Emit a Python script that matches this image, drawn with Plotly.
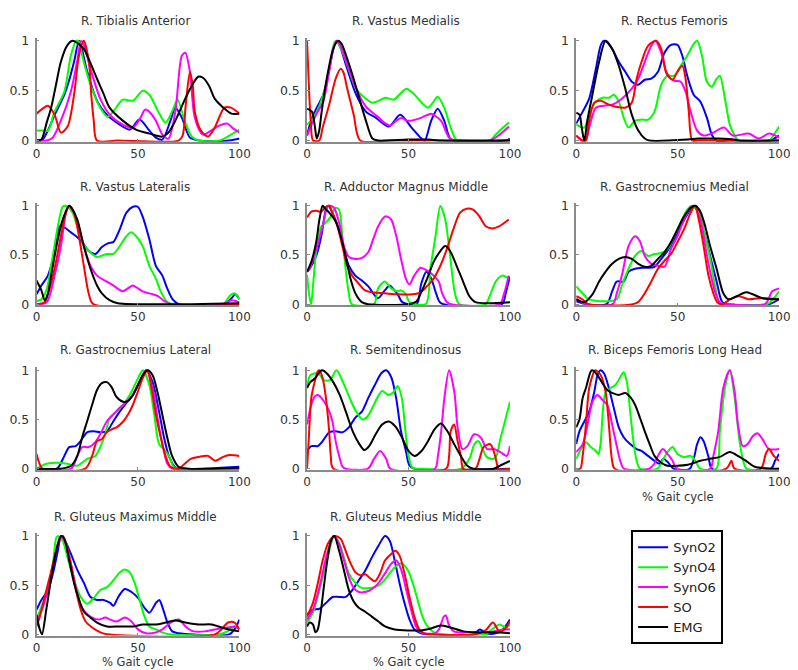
import plotly.graph_objects as go

# ---------------- data: (x % gait cycle, normalised activation) ----------------
TA_SYNO2 = [(0,0),(3,0.01),(6,0.12),(9,0.26),(13.7,0.46),(16,0.6),(18.5,0.79),(21,1.0),(25,0.69),(30,0.39),(34.6,0.26),(41,0.16),(46,0.11),(50.7,0.21),(55.6,0.1),(58.8,0.03),(62,0.01),(66,0.2),(68.4,0.33),(71.6,0.23),(75.6,0.03),(80,0),(95,0),(100,0.02)]
TA_SYNO4 = [(0,0.1),(3,0.1),(5.6,0.1),(8.9,0.29),(13.7,0.49),(16.9,0.85),(19.5,1.0),(21,0.99),(22.5,0.85),(26.6,0.56),(31.4,0.33),(35,0.24),(37.8,0.29),(42.5,0.41),(47.5,0.4),(52.3,0.5),(55.6,0.46),(60,0.29),(63.6,0.18),(66.8,0.29),(69.5,0.41),(73,0.2),(76.5,0.04),(80,0),(90,0),(95,0.05),(100,0.11)]
TA_SYNO6 = [(0,0),(5,0),(8,0.03),(12,0.2),(16.9,0.49),(20,0.79),(22,1.0),(23.5,0.95),(26.6,0.72),(31.4,0.42),(36,0.26),(42.5,0.16),(47.5,0.13),(51,0.22),(53.5,0.31),(56,0.28),(58.8,0.2),(62,0.06),(65,0.02),(68.4,0.29),(71.6,0.85),(73.3,0.88),(75.6,0.69),(78,0.23),(82,0.06),(86,0.1),(90,0.15),(94,0.17),(97,0.12),(100,0.08)]
TA_SO = [(0,0.27),(3,0.32),(5.6,0.35),(8.9,0.26),(12,0.08),(15.3,0.14),(18.5,0.46),(20.9,0.85),(23.3,1.0),(25.8,0.79),(27,0.45),(28.2,0.2),(29.8,0),(40,0),(70,0),(72,0.05),(73.5,0.35),(75.6,0.69),(77,0.55),(78,0.29),(81,0.1),(84.5,0.04),(87.8,0.13),(92.6,0.33),(95.8,0.33),(100,0.27)]
TA_EMG = [(0,0),(2.4,0.01),(5,0.18),(7.2,0.33),(9.5,0.55),(12,0.79),(15,0.95),(17.7,1.0),(20,0.98),(23.3,0.92),(26.5,0.78),(29.8,0.62),(33,0.47),(36,0.33),(42.5,0.2),(49,0.11),(55.6,0.07),(62,0.04),(65,0.08),(68.4,0.2),(73.3,0.42),(76.5,0.55),(79.7,0.64),(82,0.63),(85,0.55),(87.8,0.42),(92.6,0.32),(96,0.27),(100,0.27)]

VM_SYNO2 = [(0,0.05),(2,0.2),(4.8,0.33),(8,0.46),(11,0.72),(13,0.92),(14.5,1.0),(16.5,0.93),(19.3,0.75),(24.2,0.46),(29,0.29),(33.8,0.23),(40.3,0.14),(45.9,0.26),(51.5,0.13),(56.4,0.02),(58,0),(61.2,0.2),(64.4,0.32),(67.6,0.2),(70.8,0.01),(75,0),(98,0),(100,0.02)]
VM_SYNO4 = [(0,0.16),(2,0.2),(4.8,0.29),(8,0.46),(11,0.72),(13,0.95),(14.1,1.0),(16,0.95),(19.3,0.79),(24.2,0.52),(29,0.42),(32.2,0.38),(35.5,0.4),(38.6,0.43),(42.7,0.41),(46,0.47),(49,0.52),(53,0.46),(56.5,0.38),(59.5,0.33),(62,0.38),(64.4,0.44),(67.6,0.33),(70.8,0.13),(74,0),(90,0),(93,0.06),(96,0.12),(99.5,0.18)]
VM_SYNO6 = [(0,0.05),(2,0.15),(5,0.28),(8,0.39),(11,0.7),(13,0.93),(14.8,1.0),(16.5,0.95),(19.3,0.79),(24.2,0.52),(29,0.34),(35.4,0.23),(38,0.18),(41,0.15),(44,0.2),(46.7,0.23),(49,0.2),(51.5,0.2),(56.4,0.23),(61.2,0.27),(63,0.25),(66,0.2),(70,0.03),(73,0),(90,0),(95,0.06),(99.5,0.14)]
VM_SO = [(0,1.0),(0.8,0.6),(1.8,0.2),(3,0),(6,0),(7.7,0.13),(10.9,0.36),(14.1,0.62),(16.6,0.72),(18,0.68),(19.8,0.52),(23,0.26),(26.2,0),(40,0),(100,0)]
VM_EMG = [(0,0.32),(2.4,0.29),(3.8,0.15),(4.8,0.02),(6,0.1),(7.2,0.29),(9.7,0.62),(12.9,0.92),(15.3,1.0),(17,0.97),(19.3,0.85),(22.5,0.65),(25.8,0.42),(29,0.2),(32.2,0.02),(35,0),(50,0.01),(60,0.01),(65,0),(100,0)]

RF_SYNO2 = [(0,0.17),(3.2,0.29),(6.4,0.42),(9.7,0.72),(12,0.95),(13.5,1.0),(15,0.99),(17.7,0.92),(21,0.79),(24.2,0.69),(27.4,0.59),(30.6,0.56),(33.8,0.61),(37,0.62),(40.3,0.69),(43.5,0.88),(46.7,0.96),(49.9,0.96),(52.3,0.85),(54.7,0.65),(57.9,0.46),(61.2,0.39),(64.4,0.23),(66.8,0.06),(69,0),(95,0),(100,0.05)]
RF_SYNO4 = [(0,0.16),(4,0.13),(6.4,0.26),(9.7,0.39),(12.9,0.43),(16.1,0.43),(18.5,0.46),(21,0.39),(23.4,0.23),(25.8,0.13),(29,0.2),(32.2,0.21),(35.4,0.21),(38.6,0.29),(41.9,0.56),(45,0.65),(48.3,0.65),(51.5,0.75),(54.7,0.85),(57.9,0.97),(59.6,1.0),(62,0.85),(64.4,0.59),(66.8,0.54),(69.2,0.62),(70.8,0.65),(73.3,0.42),(75.7,0.16),(78.1,0.05),(80,0),(95,0),(97.5,0.06),(100,0.14)]
RF_SYNO6 = [(0,0.05),(3,0),(5,0.02),(6.4,0.13),(9.7,0.33),(13.7,0.35),(17.7,0.36),(22.5,0.42),(27.4,0.52),(30.6,0.62),(33.8,0.79),(37,0.95),(39,1.0),(41.9,0.88),(45,0.65),(48.3,0.6),(51.5,0.59),(53.9,0.49),(56.4,0.29),(59.6,0.1),(62.8,0.05),(67.6,0.08),(71,0.12),(73,0.13),(77.3,0.05),(85,0.07),(90,0.02),(95,0.07),(100,0.03)]
RF_SO = [(0,0.05),(3,0),(4.8,0),(6.4,0.2),(8.9,0.38),(12.1,0.4),(16.1,0.36),(19.3,0.34),(24.2,0.33),(27.4,0.38),(29.8,0.62),(32.2,0.79),(35.4,0.95),(39.4,1.0),(41.9,0.92),(44.3,0.69),(47.5,0.61),(49.9,0.69),(52.3,0.75),(53.9,0.62),(55.5,0.29),(57.2,0),(60,0),(100,0)]
RF_EMG = [(0,0.28),(1.6,0.26),(2.8,0.12),(4,0),(5.5,0.2),(8,0.46),(11.3,0.79),(14.5,1.0),(17.7,0.92),(21,0.75),(24.2,0.52),(27.4,0.26),(30.6,0.1),(33.8,0.02),(36,0),(55,0.01),(60,0.02),(70,0.02),(78,0.01),(80,0),(100,0)]

VL_SYNO2 = [(0,0.1),(2.4,0.19),(5.6,0.29),(8.9,0.53),(11.3,0.79),(13.7,0.78),(16.9,0.73),(20.1,0.68),(22.5,0.63),(25.8,0.54),(29,0.51),(32.2,0.58),(35.4,0.62),(37.8,0.63),(41,0.76),(44.3,0.93),(47.5,0.99),(49.9,0.99),(52.3,0.89),(55.6,0.66),(58.8,0.39),(62,0.29),(64.4,0.16),(67,0.05),(70,0),(93,0),(96,0.06),(98,0.1),(100,0.05)]
VL_SYNO4 = [(0,0.03),(2.4,0.05),(5,0.15),(7.2,0.39),(10.5,0.79),(12.9,0.99),(14.5,1.0),(17.7,0.93),(20.1,0.79),(22.5,0.64),(25.8,0.54),(29.8,0.48),(34.6,0.51),(37.8,0.51),(41,0.59),(44.3,0.69),(46.7,0.73),(49.1,0.69),(52.3,0.59),(55.6,0.39),(58.8,0.26),(61.2,0.13),(64,0.03),(67,0),(92,0),(95,0.08),(97.5,0.11),(100,0.05)]
VL_SYNO6 = [(0,0),(5,0.02),(8.9,0.29),(12,0.59),(14.5,0.93),(16,1.0),(17.5,0.97),(20.1,0.83),(23.3,0.59),(26.6,0.39),(29.8,0.29),(34.6,0.23),(37.8,0.19),(42.5,0.13),(45,0.16),(47.5,0.19),(50,0.16),(52.3,0.13),(57.2,0.1),(60,0.08),(63,0.03),(66,0),(92,0),(96,0.04),(100,0.02)]
VL_SO = [(0,0),(4,0.02),(5.6,0.1),(8.9,0.36),(12,0.69),(14.5,0.93),(16.1,1.0),(18.5,0.93),(20.9,0.69),(23.3,0.39),(25.8,0.1),(28,0),(100,0)]
VL_EMG = [(0,0.24),(2.4,0.14),(4,0.04),(5.5,0.1),(7.2,0.29),(10.5,0.66),(12.9,0.86),(16.1,1.0),(17.5,0.97),(20.1,0.86),(23.3,0.59),(26.6,0.36),(29.8,0.19),(32.2,0.11),(36,0.04),(40,0.01),(100,0.01)]

AM_SYNO2 = [(0,0.33),(1.3,0.36),(4.5,0.49),(7,0.69),(9.3,0.96),(10.5,1.0),(13.3,0.89),(15.8,0.76),(18.2,0.56),(20.6,0.39),(23.8,0.29),(27,0.24),(30.2,0.18),(32.6,0.11),(35,0.06),(38.3,0.14),(40.7,0.19),(43.1,0.14),(44.7,0.1),(47,0.02),(54,0),(56.3,0.21),(58.8,0.33),(61.2,0.26),(63.6,0.11),(66,0.01),(96,0),(98,0.12),(100,0.28)]
AM_SYNO4 = [(0,0.3),(1,0.1),(2,0),(3,0.2),(4.5,0.53),(7,0.79),(9.3,0.83),(11.7,0.89),(14.1,0.98),(15.8,0.96),(17.4,0.69),(19,0.36),(20.6,0.11),(22,0),(33,0),(35,0.16),(38.3,0.23),(41.5,0.16),(44.7,0.13),(46.3,0.14),(48.7,0.1),(50.5,0.02),(58.5,0),(60.8,0.36),(63.3,0.69),(65.7,1.0),(68.1,0.86),(70.5,0.49),(72.9,0.11),(75,0),(88,0),(90,0.08),(93,0.23),(96.2,0.29),(99.4,0.26)]
AM_SYNO6 = [(0,0.33),(1.3,0.36),(4.5,0.56),(7.7,0.79),(10,0.99),(11.5,1.0),(13.3,0.98),(15.8,0.83),(18.2,0.59),(20.6,0.48),(23.8,0.46),(27,0.47),(30.2,0.53),(32.6,0.66),(35,0.79),(38.3,0.89),(39.5,0.89),(41.5,0.86),(44,0.69),(46.3,0.46),(48.7,0.26),(50.5,0.2),(52.8,0.29),(56,0.37),(59.2,0.34),(62.4,0.29),(64.9,0.23),(66.6,0.11),(69,0.02),(71,0),(95,0),(97,0.1),(99.4,0.29)]
AM_SO = [(0,0.88),(2.1,0.94),(4.5,0.95),(7,0.94),(9.3,0.99),(11,1.0),(12.5,0.93),(15,0.79),(17.4,0.59),(19.8,0.39),(22.2,0.29),(25.4,0.21),(28.6,0.14),(31.8,0.12),(38.3,0.11),(45,0.1),(52,0.1),(56,0.12),(59,0.18),(62.4,0.26),(65.7,0.39),(68.9,0.56),(72.1,0.76),(75.4,0.93),(78.6,0.97),(81.8,0.96),(85,0.89),(88.2,0.79),(91.4,0.77),(94.6,0.79),(99.4,0.86)]
AM_EMG = [(0,0.33),(2.1,0.43),(4.5,0.63),(6.1,0.86),(7.7,1.0),(9,0.97),(10.9,0.93),(14.1,0.84),(16.6,0.69),(19,0.49),(21.4,0.26),(23.8,0.11),(27,0.02),(30,0),(50,0),(54,0.03),(56,0.11),(59.2,0.26),(62.4,0.43),(65.7,0.54),(68.1,0.59),(70.5,0.54),(73.7,0.39),(76.9,0.23),(80,0.08),(83,0.02),(100,0.02)]

GM_SYNO2 = [(0,0.03),(5,0),(15,0),(17.7,0.13),(20,0.23),(23.4,0.23),(25.8,0.33),(29,0.36),(32.2,0.37),(35.4,0.37),(38.6,0.38),(41.9,0.46),(45,0.54),(48.3,0.66),(51.5,0.79),(54.7,0.91),(58,1.0),(60.4,0.93),(63.6,0.69),(66,0.49),(69.2,0.23),(72,0.02),(75,0),(95,0),(100,0.05)]
GM_SYNO4 = [(0,0.18),(3.2,0.11),(6,0.05),(15,0.03),(20,0.05),(22.5,0.19),(25.8,0.36),(29,0.49),(32.2,0.54),(35.4,0.49),(38.6,0.51),(41.9,0.52),(45,0.56),(48.3,0.69),(51.5,0.83),(54.7,0.96),(57,1.0),(60.4,0.93),(62.8,0.76),(66,0.46),(68.4,0.19),(70.5,0.02),(73,0),(94,0),(97,0.05),(100,0.13)]
GM_SYNO6 = [(0,0.05),(5,0),(18,0),(20,0.11),(22.5,0.29),(25.8,0.59),(29,0.69),(31.4,0.64),(33.8,0.49),(37,0.41),(40.3,0.39),(43.5,0.38),(46.7,0.56),(49.9,0.69),(53.1,0.86),(56.4,0.98),(58,1.0),(61.2,0.86),(63.6,0.59),(66,0.33),(68.4,0.13),(71,0.01),(75,0),(93,0),(96.6,0.13),(100,0.16)]
GM_SO = [(0,0.08),(3,0.05),(6,0),(28,0),(31,0.03),(33.8,0.11),(37,0.23),(40.3,0.36),(43.5,0.44),(46.7,0.51),(49.9,0.63),(53.1,0.76),(56.4,0.93),(58.5,1.0),(60.4,0.86),(62.8,0.59),(65.2,0.29),(67.6,0.11),(69.5,0.02),(72,0),(76,0.05),(80,0.08),(85,0.05),(90,0.06),(100,0.05)]
GM_EMG = [(0,0.05),(4,0.02),(8,0.1),(11.3,0.23),(14.5,0.33),(17.7,0.41),(21,0.46),(24.2,0.48),(27.4,0.46),(30.6,0.41),(33.8,0.38),(37,0.39),(40.3,0.46),(43.5,0.53),(46.7,0.63),(49.9,0.76),(53.1,0.89),(56.4,0.98),(58.8,1.0),(61.2,0.94),(63.6,0.79),(66,0.59),(69.2,0.36),(72.5,0.11),(75,0.05),(79,0.08),(83.7,0.12),(87,0.1),(92,0.06),(100,0.05)]

GL_SYNO2 = [(0,0),(10,0),(13.7,0.13),(16.1,0.22),(19.3,0.23),(21.7,0.28),(24.9,0.37),(28.2,0.38),(31.4,0.37),(34.6,0.38),(37.8,0.48),(41,0.58),(44.3,0.67),(47.5,0.75),(50.7,0.88),(54,1.0),(57.2,0.88),(60.4,0.58),(62.8,0.32),(65.2,0.13),(68,0.02),(70,0),(100,0.02)]
GL_SYNO4 = [(0,0),(5,0.05),(10,0.06),(15,0.05),(20,0.03),(25,0.1),(29,0.13),(31.4,0.22),(33.8,0.35),(36.2,0.52),(39.4,0.58),(42.7,0.65),(45.9,0.75),(49.1,0.88),(51.5,0.98),(52.5,1.0),(55.6,0.85),(58,0.55),(60.4,0.25),(62.8,0.2),(65.2,0.13),(67.5,0.02),(70,0),(100,0)]
GL_SYNO6 = [(0,0),(17,0),(20.1,0.13),(22.5,0.22),(25.8,0.22),(29,0.27),(31.4,0.35),(34.6,0.48),(37.8,0.55),(41,0.62),(44.3,0.68),(47.5,0.75),(50.7,0.88),(54,1.0),(57.2,0.82),(59.6,0.52),(62,0.25),(64.5,0.05),(67,0),(100,0)]
GL_SO = [(0,0.15),(1.5,0.05),(3,0),(24,0),(27.4,0.13),(29.8,0.28),(32.2,0.3),(34.6,0.37),(37,0.4),(39.4,0.42),(42.7,0.48),(45.1,0.55),(47.5,0.65),(49.9,0.78),(52.3,0.92),(54.8,1.0),(56.4,0.85),(58.8,0.55),(61.2,0.32),(63.6,0.13),(66,0.02),(70,0),(73,0.05),(76,0.1),(80,0.12),(84.5,0.13),(88,0.08),(92,0.12),(95,0.14),(100,0.13)]
GL_EMG = [(0,0),(12,0),(17,0.03),(20.1,0.13),(22.5,0.32),(24.9,0.48),(27.4,0.65),(29.8,0.8),(32.2,0.87),(34.6,0.88),(37,0.83),(39.4,0.73),(42.7,0.68),(45.1,0.69),(47.5,0.75),(49.9,0.85),(52.3,0.95),(54.7,1.0),(57.2,0.95),(59.6,0.78),(62,0.55),(64.4,0.32),(66.8,0.13),(70,0.02),(75,0),(100,0.01)]

ST_SYNO2 = [(0,0.18),(2.1,0.23),(5.3,0.23),(7.7,0.28),(10.9,0.37),(14.1,0.38),(17.4,0.37),(20.6,0.42),(23.8,0.52),(27,0.58),(30.2,0.72),(33.4,0.85),(36.6,0.97),(39,1.0),(41.5,0.93),(43.9,0.72),(46.3,0.38),(48.7,0.18),(50.5,0.03),(53,0),(100,0)]
ST_SYNO4 = [(0,0.82),(1.6,0.95),(4.8,0.97),(6.5,0.95),(8,0.9),(11.3,0.9),(14.5,1.0),(17.7,0.88),(21,0.72),(24.2,0.58),(27.4,0.5),(29.8,0.53),(32.2,0.62),(34.6,0.72),(37,0.79),(40.2,0.75),(42.7,0.78),(44.7,0.84),(46.7,0.72),(48.3,0.42),(50,0.13),(52,0.01),(57,0),(76,0),(80,0.1),(82.5,0.25),(84.5,0.28),(86.5,0.2),(88.5,0.12),(91.8,0.1),(93.5,0.14),(95,0.28),(97.5,0.48),(100,0.68)]
ST_SYNO6 = [(0,0.45),(2.1,0.65),(3.7,0.73),(5,0.75),(6.1,0.74),(8.5,0.68),(11,0.58),(12.5,0.48),(14.1,0.28),(15.8,0.13),(17.5,0.02),(19,0),(30,0),(33,0.1),(36,0.18),(39,0.1),(41,0),(63,0),(64.5,0.13),(66.1,0.38),(67.7,0.72),(70,1.0),(72.6,0.78),(74.2,0.42),(76.6,0.2),(79,0.23),(82.3,0.35),(85.5,0.32),(88.7,0.2),(91.9,0.2),(95.2,0.17),(98.4,0.13),(100,0.23)]
ST_SO = [(0,0),(0.8,0.28),(2.1,0.72),(3.7,0.88),(5.3,0.99),(6.2,1.0),(7.7,0.92),(9.3,0.72),(10.9,0.38),(11.7,0.13),(13,0),(68.5,0),(70,0.13),(70.8,0.38),(72.5,0.45),(74.2,0.28),(75.8,0.13),(77,0),(83,0),(85,0.1),(87,0.22),(90.3,0.25),(92.7,0.13),(94.5,0),(100,0)]
ST_EMG = [(0,0.82),(1.6,0.88),(4,0.92),(6.5,0.99),(7.5,1.0),(9.7,0.97),(12.9,0.88),(16.1,0.75),(19.3,0.57),(22.5,0.38),(25.8,0.25),(28.2,0.19),(30.6,0.23),(33.8,0.35),(37,0.45),(40.3,0.48),(43.5,0.43),(46.7,0.32),(50,0.18),(53.1,0.13),(56.4,0.18),(59.6,0.28),(62.8,0.4),(66,0.46),(69.2,0.38),(72.5,0.25),(75.8,0.13),(79,0.03),(82,0),(92,0),(96,0.04),(100,0.08)]

BF_SYNO2 = [(0,0.25),(1.6,0.38),(4,0.48),(6.4,0.58),(8.9,0.78),(10.5,0.95),(12,1.0),(13.7,0.97),(16.1,0.82),(18.5,0.62),(21,0.42),(23.4,0.32),(26.6,0.25),(29.8,0.2),(32.2,0.18),(35.4,0.13),(38.6,0.08),(41,0.05),(43,0.1),(45,0.07),(48,0),(56,0),(59.6,0.25),(61.2,0.32),(62.8,0.28),(65.2,0.12),(67,0),(96,0),(98,0.08),(100,0.15)]
BF_SYNO4 = [(0,0.1),(3.2,0.23),(4.8,0.27),(7.2,0.22),(9.7,0.18),(11,0.15),(12,0.25),(14.5,0.78),(16.9,0.82),(19.3,0.85),(21.7,0.93),(23.4,0.98),(25,0.88),(26.6,0.58),(28.2,0.28),(29.8,0.08),(31.5,0),(40,0),(43,0.1),(45,0.17),(47.5,0.22),(49.9,0.15),(53.1,0.12),(56.4,0.13),(58.8,0.08),(61,0),(69,0),(70.8,0.38),(73.3,0.82),(75.7,1.0),(78.1,0.72),(80.5,0.28),(82.1,0.1),(84,0),(100,0)]
BF_SYNO6 = [(0,0.17),(3.2,0.25),(5.6,0.45),(8,0.68),(10.5,0.75),(12.9,0.7),(15.3,0.65),(17.7,0.45),(20.1,0.22),(21.7,0.08),(23.5,0),(36,0),(38.5,0.05),(40.3,0.13),(42.7,0.2),(45,0.15),(47.5,0.08),(49.5,0),(66,0),(67.6,0.13),(70,0.38),(72.5,0.82),(75.7,1.0),(78.1,0.78),(79.7,0.45),(82.1,0.23),(84.5,0.25),(87,0.33),(89.4,0.36),(91.8,0.3),(95,0.2),(100,0.2)]
BF_SO = [(0,0),(2,0),(3.2,0.13),(4.8,0.45),(6.4,0.82),(8.9,0.99),(9.5,1.0),(12.1,0.95),(14.5,0.78),(16.1,0.45),(17.7,0.08),(19,0),(74,0),(76.5,0.08),(78,0),(91,0),(93.4,0.15),(95,0.2),(97.4,0.13),(100,0.08)]
BF_EMG = [(0,0.42),(1.6,0.5),(3.2,0.72),(4.8,0.82),(7.2,0.99),(8,1.0),(10.5,0.95),(12.9,0.87),(15.3,0.8),(17.7,0.77),(21,0.75),(24.2,0.77),(26.6,0.73),(29,0.65),(31.4,0.52),(33.8,0.38),(36.2,0.25),(38.6,0.13),(41.9,0.06),(45,0.03),(55,0.04),(61.2,0.08),(66,0.1),(70.8,0.12),(75.7,0.17),(80.5,0.12),(83.7,0.08),(88,0.02),(100,0)]

GX_SYNO2 = [(0,0.25),(2.4,0.35),(5.6,0.45),(8.1,0.62),(10.5,0.85),(12.1,1.0),(14.5,0.93),(16.9,0.82),(20.2,0.65),(23.4,0.52),(26.6,0.38),(29.8,0.35),(33,0.35),(36.3,0.32),(37.9,0.29),(40.3,0.38),(43.5,0.46),(46.8,0.43),(50,0.37),(53.2,0.27),(55.6,0.22),(58.9,0.32),(60.5,0.35),(62,0.28),(64.5,0.12),(66.9,0.03),(70.2,0.01),(75,0),(95,0),(98.4,0.08),(100,0.15)]
GX_SYNO4 = [(0,0.15),(2.4,0.28),(5.6,0.45),(8.1,0.72),(9.7,0.98),(10.5,1.0),(12.9,0.95),(15.3,0.78),(18.5,0.55),(21.8,0.38),(25,0.31),(28.2,0.37),(31.5,0.45),(34.7,0.48),(37.9,0.55),(41.1,0.63),(43.5,0.66),(46,0.63),(48.4,0.52),(50.8,0.35),(53.2,0.18),(55.6,0.08),(58.9,0.05),(62,0.02),(65,0),(90,0),(94,0.03),(97.6,0.08),(100,0.05)]
GX_SYNO6 = [(0,0.12),(3.2,0.28),(6.5,0.52),(8.9,0.78),(11.3,0.98),(12.1,1.0),(14.5,0.92),(16.9,0.72),(19.4,0.48),(21.8,0.3),(24.2,0.22),(27.4,0.17),(30.6,0.15),(33.9,0.17),(36.3,0.15),(39.5,0.13),(43.5,0.17),(46.8,0.13),(50,0.05),(54,0.01),(58.9,0.02),(62,0.05),(66.9,0.13),(70.2,0.15),(73.4,0.08),(77.4,0.03),(83,0.03),(87.9,0.05),(94.4,0.07),(97.6,0.08),(100,0.05)]
GX_SO = [(0,0.08),(1.6,0.18),(4,0.38),(7.3,0.65),(9.7,0.85),(12.1,0.99),(13,1.0),(14.5,0.93),(16.9,0.72),(19.4,0.45),(21.8,0.25),(24.2,0.13),(27.4,0.07),(31.5,0.02),(34.7,0),(88,0),(91.1,0.05),(94.4,0.12),(97.6,0.12),(100,0.05)]
GX_EMG = [(0,0.2),(1.6,0.05),(2.7,0),(4.8,0.25),(7.3,0.58),(9.7,0.85),(12.1,1.0),(13.7,0.97),(16.1,0.75),(18.5,0.52),(21,0.35),(23.4,0.23),(26.6,0.17),(29.8,0.12),(34.7,0.08),(41.1,0.08),(47.6,0.08),(52.4,0.1),(58.9,0.1),(63.7,0.12),(68.5,0.14),(73.4,0.12),(79.8,0.1),(86.3,0.1),(92.7,0.06),(100,0.03)]

GD_SYNO2 = [(0,0.2),(2.9,0.25),(6.1,0.26),(9.4,0.32),(12.6,0.38),(15.8,0.38),(19,0.38),(22.3,0.45),(25.5,0.55),(28.7,0.65),(31.9,0.78),(35.2,0.9),(38.4,1.0),(40.8,0.95),(43.2,0.75),(45.6,0.52),(48,0.32),(50.5,0.15),(52.9,0.05),(56.1,0.01),(60,0),(82,0),(85.2,0.05),(88.4,0.01),(93,0.01),(96.5,0.05),(100,0.15)]
GD_SYNO4 = [(0,0.12),(2.9,0.22),(6.1,0.45),(9.4,0.72),(11.8,0.92),(13.4,1.0),(15.8,0.93),(18.2,0.78),(20.6,0.62),(23.9,0.52),(27.1,0.47),(30.3,0.47),(33.5,0.48),(36.8,0.52),(40,0.6),(43.2,0.68),(46.5,0.72),(49.7,0.65),(52.1,0.52),(54.5,0.35),(56.9,0.18),(59.4,0.08),(62.6,0.02),(66,0),(88,0),(90,0.03),(94.8,0.1),(98.1,0.07),(100,0.1)]
GD_SYNO6 = [(0,0.15),(2.9,0.25),(6.1,0.48),(9.4,0.78),(11.8,0.95),(13,1.0),(15.8,0.92),(18.2,0.75),(20.6,0.58),(23.1,0.47),(25.5,0.43),(28.7,0.43),(31.9,0.46),(35.2,0.52),(38.4,0.62),(41.6,0.72),(44,0.75),(46.5,0.65),(48.9,0.45),(51.3,0.25),(53.7,0.08),(56.1,0.02),(63,0.01),(65,0.05),(67.4,0.18),(68.5,0.19),(69.8,0.1),(72.3,0.03),(80,0.02),(90,0.02),(96.5,0.05),(100,0.05)]
GD_SO = [(0,0.18),(2.9,0.32),(5.3,0.52),(7.7,0.75),(10.2,0.92),(12.6,0.99),(14,1.0),(16.6,0.97),(19,0.85),(21.5,0.72),(23.9,0.63),(26.3,0.6),(28.7,0.61),(31.1,0.57),(33.5,0.54),(36,0.62),(38.4,0.75),(41.6,0.82),(43.5,0.85),(45.6,0.8),(48,0.62),(50.5,0.38),(52.9,0.18),(55.3,0.05),(57.7,0.01),(60,0),(83,0),(86,0.02),(88.4,0.05),(91.6,0.12),(94.8,0.03),(97.3,0.05),(100,0.13)]
GD_EMG = [(0,0.08),(1.3,0.12),(2.9,0.1),(4.2,0.02),(5.3,0.05),(6.9,0.25),(8.5,0.52),(10.2,0.78),(11.8,0.95),(13.4,1.0),(15.8,0.85),(18.2,0.65),(20.6,0.45),(23.1,0.33),(25.5,0.27),(28.7,0.23),(31.9,0.18),(35.2,0.13),(38.4,0.08),(43.2,0.05),(49.7,0.04),(56.1,0.04),(61,0.06),(65.8,0.09),(70.6,0.07),(77.1,0.03),(83.5,0.02),(91.6,0.02),(100,0.01)]

TITLES = ["R. Tibialis Anterior", "R. Vastus Medialis", "R. Rectus Femoris",
          "R. Vastus Lateralis", "R. Adductor Magnus Middle", "R. Gastrocnemius Medial",
          "R. Gastrocnemius Lateral", "R. Semitendinosus", "R. Biceps Femoris Long Head",
          "R. Gluteus Maximus Middle", "R. Gluteus Medius Middle"]
PANELS = [
    [TA_SYNO2, TA_SYNO4, TA_SYNO6, TA_SO, TA_EMG],
    [VM_SYNO2, VM_SYNO4, VM_SYNO6, VM_SO, VM_EMG],
    [RF_SYNO2, RF_SYNO4, RF_SYNO6, RF_SO, RF_EMG],
    [VL_SYNO2, VL_SYNO4, VL_SYNO6, VL_SO, VL_EMG],
    [AM_SYNO2, AM_SYNO4, AM_SYNO6, AM_SO, AM_EMG],
    [GM_SYNO2, GM_SYNO4, GM_SYNO6, GM_SO, GM_EMG],
    [GL_SYNO2, GL_SYNO4, GL_SYNO6, GL_SO, GL_EMG],
    [ST_SYNO2, ST_SYNO4, ST_SYNO6, ST_SO, ST_EMG],
    [BF_SYNO2, BF_SYNO4, BF_SYNO6, BF_SO, BF_EMG],
    [GX_SYNO2, GX_SYNO4, GX_SYNO6, GX_SO, GX_EMG],
    [GD_SYNO2, GD_SYNO4, GD_SYNO6, GD_SO, GD_EMG],
]
SERIES_NAMES = ["SynO2", "SynO4", "SynO6", "SO", "EMG"]
SERIES_COLORS = ["#0000ff", "#00ff00", "#ff00ff", "#ff0000", "#000000"]
X_TICKS = [0, 50, 100]
Y_TICKS = [0, 0.5, 1]
XLABEL = "% Gait cycle"
XLABEL_PANELS = [8, 9, 10]

# ---------------- layout geometry (pixels) ----------------
W, H = 798, 670
COL_X0 = [25.0, 300.7, 575.0]
COL_W = 206.8
ROW_Y = [(28.3, 129.7), (196.0, 296.0), (363.3, 463.3), (531.7, 631.7)]  # (y=1 px, y=0 px)
TITLE_Y = [8.5, 177.0, 343.0, 512.0]
Y_LO, Y_HI = -0.012, 1.03
FONT = "DejaVu Sans"
AXIS_GRAY = "#8a8a8a"
TEXT = "#333333"

fig = go.Figure()
layout = dict(width=W, height=H, margin=dict(l=0, r=0, t=0, b=0),
              paper_bgcolor="white", plot_bgcolor="white", showlegend=True)
annotations = []

for i, (title, series) in enumerate(zip(TITLES, PANELS)):
    r, c = divmod(i, 3)
    k = "" if i == 0 else str(i + 1)
    x0 = COL_X0[c]
    x1 = x0 + COL_W
    y1px, y0px = ROW_Y[r]
    unit = y0px - y1px
    top = y0px - Y_HI * unit
    bot = y0px - Y_LO * unit
    layout["xaxis" + k] = dict(
        domain=[x0 / W, x1 / W], range=[0, 100], anchor="y" + k,
        tickmode="array", tickvals=X_TICKS, ticks="inside", ticklen=3, tickwidth=1,
        tickcolor=AXIS_GRAY, showline=True, linecolor=AXIS_GRAY, linewidth=1.5,
        showgrid=False, zeroline=False, ticklabelstandoff=0,
        tickfont=dict(family=FONT, size=12, color=TEXT), fixedrange=True)
    layout["yaxis" + k] = dict(
        domain=[1 - bot / H, 1 - top / H], range=[Y_LO, Y_HI], anchor="x" + k,
        tickmode="array", tickvals=Y_TICKS, ticktext=["0", "0.5", "1"],
        ticks="inside", ticklen=3, tickwidth=1,
        tickcolor=AXIS_GRAY, showline=True, linecolor=AXIS_GRAY, linewidth=1.5,
        showgrid=False, zeroline=False, ticklabelstandoff=3,
        tickfont=dict(family=FONT, size=12.5, color=TEXT), fixedrange=True)
    for j, pts in enumerate(series):
        fig.add_trace(go.Scatter(
            x=[p[0] for p in pts], y=[p[1] for p in pts],
            xaxis="x" + k, yaxis="y" + k, mode="lines",
            line=dict(color=SERIES_COLORS[j], width=2, shape="spline", smoothing=0.8),
            name=SERIES_NAMES[j], legendgroup=SERIES_NAMES[j], showlegend=(i == 0),
            hoverinfo="skip"))
    annotations.append(dict(
        text=title, xref="paper", yref="paper",
        x=((x0 + x1) / 2 - 3) / W, y=1 - TITLE_Y[r] / H,
        xanchor="center", yanchor="middle", showarrow=False,
        font=dict(family=FONT, size=12, color=TEXT)))
    if i in XLABEL_PANELS:
        annotations.append(dict(
            text=XLABEL, xref="paper", yref="paper",
            x=((x0 + x1) / 2) / W, y=1 - (y0px + 28.5) / H,
            xanchor="center", yanchor="middle", showarrow=False, borderpad=0,
            font=dict(family=FONT, size=11.5, color=TEXT)))

layout["annotations"] = annotations
layout["legend"] = dict(
    x=631 / W, y=1 - 526 / H, xanchor="left", yanchor="top",
    bordercolor="#000000", borderwidth=2, bgcolor="white",
    font=dict(family=FONT, size=13, color="#222222"),
    tracegroupgap=0, itemwidth=30)
fig.update_layout(**layout)
fig.write_html("out.html")
